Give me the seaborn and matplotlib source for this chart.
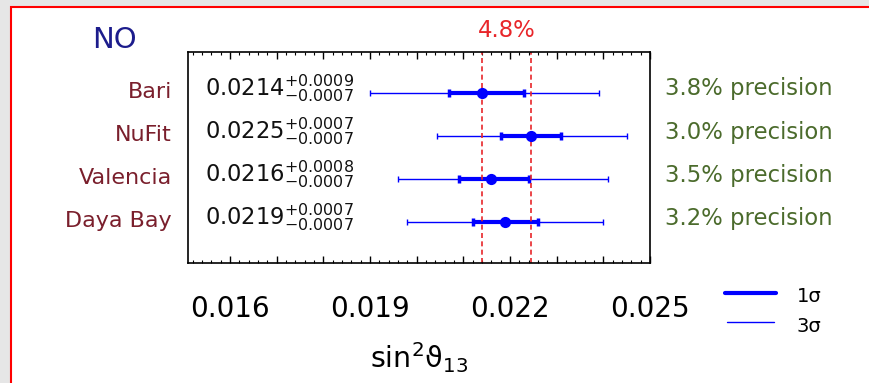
import numpy as np
import pandas as pd
import seaborn as sns
import matplotlib.pyplot as plt
import matplotlib.transforms as mtransforms
from matplotlib.lines import Line2D
from matplotlib.patches import Rectangle
from matplotlib.ticker import MultipleLocator, FuncFormatter

# values
fits = ["Bari", "NuFit", "Valencia", "Daya Bay"]
best = [0.0214, 0.02245, 0.0216, 0.0219]
sig1_lo = [0.0207, 0.0218, 0.0209, 0.0212]
sig1_hi = [0.0223, 0.0231, 0.0224, 0.0226]
sig3_lo = [0.0190, 0.02044, 0.0196, 0.0198]
sig3_hi = [0.0239, 0.0245, 0.0241, 0.0240]
best_txt = ["0.0214", "0.0225", "0.0216", "0.0219"]
err_up = ["0.0009", "0.0007", "0.0008", "0.0007"]
err_dn = ["0.0007", "0.0007", "0.0007", "0.0007"]
precision = ["3.8%", "3.0%", "3.5%", "3.2%"]
band = [0.0214, 0.02245]
band_txt = "4.8%"
xtick_labels = ["0.016", "0.019", "0.022", "0.025"]

df = pd.DataFrame({"fit": fits, "best": best,
                   "lo1": sig1_lo, "hi1": sig1_hi,
                   "lo3": sig3_lo, "hi3": sig3_hi,
                   "txt": best_txt, "up": err_up, "dn": err_dn,
                   "prec": precision})
df["row"] = np.arange(len(df))

sns.set_theme(style="white")
plt.rcParams['font.family'] = ['DejaVu Sans']
plt.rcParams['mathtext.fontset'] = 'dejavusans'
plt.rcParams['text.color'] = 'black'
plt.rcParams['xtick.labelcolor'] = 'black'

W, H = 869, 383
fig = plt.figure(figsize=(W / 100, H / 100), dpi=100, facecolor='#e6e6e6')
# white panel with red frame
fig.add_artist(Rectangle((10.5 / W, -0.05), 1.1, (H - 6.5) / H + 0.05,
                         transform=fig.transFigure, facecolor='white',
                         edgecolor='red', lw=1.5, zorder=-1))
ax = fig.add_axes([188 / W, 1 - 263 / H, 462 / W, 211 / H])

blue = '#0000ff'
red = '#e8262a'

# 3 sigma and 1 sigma ranges
ax.errorbar(df["best"], df["row"], xerr=[df["best"] - df["lo3"], df["hi3"] - df["best"]],
            fmt='none', ecolor=blue, elinewidth=1, capsize=2.3, capthick=1)
ax.errorbar(df["best"], df["row"], xerr=[df["best"] - df["lo1"], df["hi1"] - df["best"]],
            fmt='none', ecolor=blue, elinewidth=3, capsize=3.2, capthick=2.5)
sns.scatterplot(data=df, x="best", y="row", color=blue, s=65, linewidth=0, ax=ax, zorder=3)

for xv in band:
    ax.axvline(xv, color=red, ls=(0, (3, 2)), lw=1.2)

ax.set_xlim(0.0151, 0.025)
ax.set_ylim(3.95, -0.95)
ax.set_xlabel("")
ax.set_ylabel("")
ax.set_yticks([])

ax.xaxis.set_major_locator(MultipleLocator(0.001))
ax.xaxis.set_minor_locator(MultipleLocator(0.0002))
ax.xaxis.set_major_formatter(FuncFormatter(
    lambda v, p: f"{v:.3f}" if f"{v:.3f}" in xtick_labels else ""))
ax.tick_params(axis='x', which='both', direction='in', top=True, bottom=True,
               color='black', labelcolor='black', labelsize=20, pad=23)
ax.tick_params(axis='x', which='major', length=5, width=1)
ax.tick_params(axis='x', which='minor', length=2.5, width=0.8)
for sp in ax.spines.values():
    sp.set_color('black')
    sp.set_linewidth(1.2)

trans = mtransforms.blended_transform_factory(ax.transAxes, ax.transData)
for r in df.itertuples():
    ax.text(-0.035, r.row + 0.11, r.fit, transform=trans, ha='right', va='baseline',
            fontsize=16, color='#7a1f2c')
    ax.text(0.037, r.row + 0.055, rf"$\mathrm{{{r.txt}}}^{{+\mathrm{{{r.up}}}}}_{{-\mathrm{{{r.dn}}}}}$",
            transform=trans, ha='left', va='baseline', fontsize=16.3, color='#111111')
    ax.text(1.0325, r.row + 0.06, f"{r.prec} precision", transform=trans, ha='left',
            va='baseline', fontsize=16.4, color='#4b6b2c')

ax.text(np.mean(band), 1.0725, band_txt, transform=mtransforms.blended_transform_factory(ax.transData, ax.transAxes),
        ha='center', va='baseline', fontsize=16.4, color=red)

fig.text(114 / W, 1 - 48 / H, "NO", ha='center', va='baseline', fontsize=21, color='#1c1c8c')
fig.text(419 / W, 1 - 368 / H, r"sin$^2$ϑ$_{13}$", ha='center', va='baseline', fontsize=20.5,
         color='black')

# legend
fig.add_artist(Line2D([725 / W, 776 / W], [1 - 293.3 / H] * 2, lw=3, color=blue))
fig.add_artist(Line2D([727 / W, 774 / W], [1 - 321.7 / H] * 2, lw=1, color=blue))
fig.text(797 / W, 1 - 301.7 / H, "1σ", ha='left', va='baseline', fontsize=14, color='black')
fig.text(797 / W, 1 - 331.7 / H, "3σ", ha='left', va='baseline', fontsize=14, color='black')

fig.savefig("out.png", dpi=100, facecolor=fig.get_facecolor())
